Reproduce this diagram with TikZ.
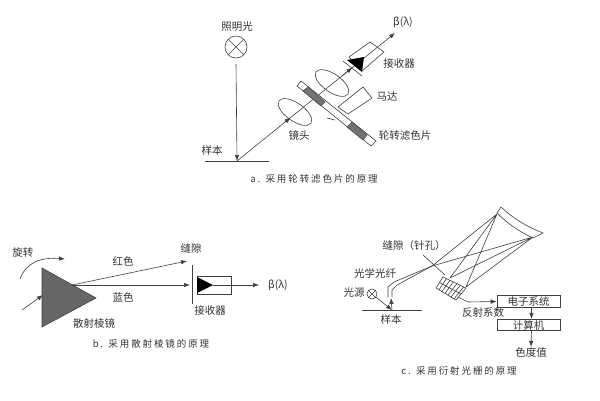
\documentclass[tikz,border=0pt]{standalone}
\usepackage{fontspec}
\setmainfont{Noto Sans CJK SC}
\usetikzlibrary{arrows.meta,calc,shapes.geometric}
\tikzset{
  lbl/.style={font=\fontsize{10.5}{12}\selectfont,text=black!80,inner sep=0pt},
  captext/.style={font=\fontsize{9.5}{11}\selectfont\addfontfeature{LetterSpace=20},text=black!80,inner sep=0pt},
  lens/.style={draw,black!75,ellipse,rotate=-35,minimum width=39pt,minimum height=18pt,inner sep=0pt},
  ray/.style={black!75,line width=.6pt},
  tipray/.style={ray,-{Latex[length=6pt,width=4.5pt]}},
  sysbox/.style={draw,black!75,line width=.6pt,minimum width=63pt,minimum height=11.5pt,inner sep=0pt,text=black!80,font=\fontsize{10.5}{12}\selectfont}
}
\begin{document}
\begin{tikzpicture}[>=Latex,x=1pt,y=-1pt,line width=.6pt]
\useasboundingbox (0,0) rectangle (600,400);
\node[lbl] (lampalabel) at (237,27){照明光};
\node[draw,circle,minimum size=22pt,inner sep=0pt,black!75] (lampa) at (236,47){};
\draw[ray] (lampa.north west)--(lampa.south east) (lampa.north east)--(lampa.south west);
\coordinate (samplea) at (237,161);
\draw[tipray] (236,64)--(samplea);
\draw[ray] (205,161)--(269,161);
\node[lbl] (sampletexta) at (212,150){样本};
\coordinate (outa) at (395,33);
\draw[tipray] (samplea)--(outa);
\draw[tipray] ($(samplea)!.3!(outa)$)--($(samplea)!.34!(outa)$);
\draw[tipray] ($(samplea)!.66!(outa)$)--($(samplea)!.73!(outa)$);
\node[lens] (lensa) at (295,112){};
\node[lens] (lensb) at (332,83){};
\draw[ray,fill=white] (297,86)--(301,81)--(376,141)--(371,146)--cycle;
\fill[black!55,draw=black!70] (303,91)--(308,87)--(325,102)--(321,106)--cycle;
\fill[black!55,draw=black!70] (347,127)--(352,122)--(367,135)--(363,140)--cycle;
\draw[ray] (327,118)--(335,120);
\draw[ray,fill=white] (338,107)--(363,87)--(372,98)--(348,114)--cycle;
\draw[ray] (370,42)--(384,52)--(362,71)--(349,57)--cycle;
\fill[black] (347,60)--(364,57)--(362,72)--cycle;
\draw[ray] (343,61)--(362,76);
\node[lbl] (betaa) at (403,22){β(λ)};
\node[lbl] (recva) at (399,64){接收器};
\node[lbl] (motora) at (387,97){马达};
\node[lbl] (lenstext) at (299,135){镜头};
\node[lbl] (wheeltext) at (405,136){轮转滤色片};
\node[captext] (capa) at (314,179){a. 采用轮转滤色片的原理};

\fill[black!60,draw=black!75] (42,268)--(96,298)--(42,327)--cycle;
\node[lbl] (rottext) at (23,253){旋转};
\draw[tipray] (20,279) .. controls (26,262) and (42,257) .. (65,259);
\draw[tipray] (22,310)--(43,295);
\coordinate (prism) at (72,285);
\coordinate (slitr) at (187,261);
\coordinate (slitb) at (190,285);
\draw[tipray] (prism)--(slitr);
\draw[tipray] (prism)--(slitb);
\draw[ray] (192,265)--(192,304);
\node[draw,black!75,minimum width=34pt,minimum height=18pt,inner sep=0pt] (recvb) at (214,285){};
\fill[black] (197,277)--(197,293)--(213,285)--cycle;
\coordinate (outb) at (259,285);
\draw[tipray] (213,285)--(outb);
\node[lbl] (betab) at (278,285){β(λ)};
\node[lbl] (redtext) at (123,261){红色};
\node[lbl] (slittext) at (191,248){缝隙};
\node[lbl] (bluetext) at (123,297){蓝色};
\node[lbl] (recvtextb) at (210,311){接收器};
\node[lbl] (prismtext) at (94,323){散射棱镜};
\node[captext] (capb) at (151,344){b. 采用散射棱镜的原理};

\coordinate (ma) at (497,214);
\coordinate (mb) at (533,237);
\coordinate (slitc) at (432,266);
\coordinate (ga) at (450,278);
\coordinate (gb) at (466,287);
\draw[ray] (497,213)--(501,207) .. controls (515,220) and (528,227) .. (543,233)--(533,238) .. controls (520,232) and (508,224) .. (497,213);
\draw[ray] (slitc)--(ma)--(ga) (slitc)--(mb)--(ga) (ma)--(gb) (mb)--(gb);
\draw[ray] (423,255)--(445,275);
\draw[ray] (388,297)--(388,287)--(394,282)--(slitc);
\draw[ray] (392,297)--(392,290)--(397,285)--(slitc);
\coordinate (arra) at (443,277);
\coordinate (arrb) at (466,288);
\coordinate (arrc) at (456,300);
\coordinate (arrd) at (436,288);
\draw[ray] (arra)--(arrb)--(arrc)--(arrd)--cycle;
\foreach \t in {.15,.3,.45,.6,.75,.9}{\draw[ray] ($(arra)!\t!(arrb)$)--($(arrd)!\t!(arrc)$);}
\draw[ray] ($(arra)!.5!(arrd)$)--($(arrb)!.5!(arrc)$);
\node[draw,circle,minimum size=10pt,inner sep=0pt,black!75] (lampc) at (372,294){};
\draw[ray] (lampc.north west)--(lampc.south east) (lampc.north east)--(lampc.south west);
\coordinate (samplec) at (392,310);
\draw[tipray] (lampc)--(samplec);
\draw[tipray] (samplec)--(391,298);
\draw[ray] (362,310)--(422,310);
\node[lbl] (lampctext) at (354,293){光源};
\node[lbl] (fibertext) at (375,273){光学光纤};
\node[lbl] (slitctext) at (414,246){缝隙（针孔）};
\node[lbl] (samplectext) at (391,319){样本};
\node[sysbox] (elec) at (528.5,301.5){电子系统};
\node[sysbox] (comp) at (528.5,325){计算机};
\node[lbl] (colortext) at (531,352){色度值};
\node[lbl] (refltext) at (483,313){反射系数};
\draw[tipray] (458,297)--(468,302)--(elec.west);
\draw[tipray] ($(elec.south)+(3,0)$)--($(comp.north)+(3,0)$);
\draw[tipray] ($(comp.south)+(3,0)$)--(colortext.north);
\node[captext] (capc) at (459,371){c. 采用衍射光栅的原理};
\end{tikzpicture}
\end{document}
